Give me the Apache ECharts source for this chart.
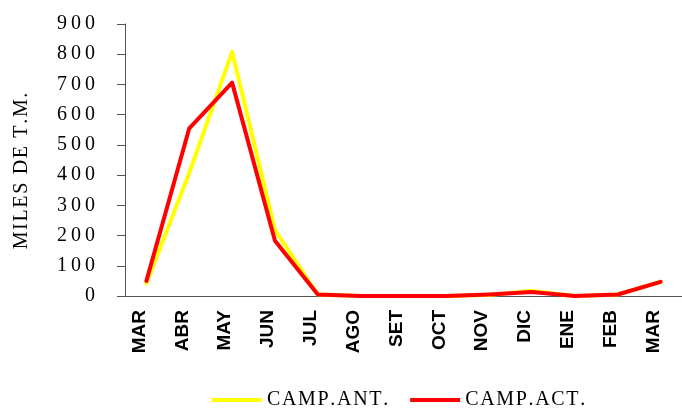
<!DOCTYPE html>
<html>
<head>
<meta charset="utf-8">
<script src="https://cdn.jsdelivr.net/npm/echarts@6/dist/echarts.min.js"></script>
<style>
  html, body { margin: 0; padding: 0; background: #fff; }
  #chart { width: 682px; height: 408px; }
</style>
</head>
<body>
<div id="chart"></div>
<script>
// categorias (meses de la campaña)
const months = ['MAR', 'ABR', 'MAY', 'JUN', 'JUL', 'AGO', 'SET', 'OCT', 'NOV', 'DIC', 'ENE', 'FEB', 'MAR'];
// miles de T.M.
const campAnt = [42, 407, 808, 218, 5, 0, 0, 0, 3, 17, 0, 5, 47];
const campAct = [50, 555, 706, 183, 5, 0, 0, 0, 5, 13, 0, 5, 47];
const seriesNames = ['CAMP.ANT.', 'CAMP.ACT.'];
const yTicks = { min: 0, max: 900, interval: 100 };

// espaciado entre letras (ECharts no tiene letterSpacing)
const spaced = (s, sp) => s.split('').join(sp);

const chart = echarts.init(document.getElementById('chart'));
const serif = '"Liberation Serif", "Times New Roman", serif';

chart.setOption({
  animation: false,
  grid: { left: 125, top: 24, bottom: 112, right: -7 },
  legend: {
    left: 212,
    top: 390,
    padding: 0,
    itemWidth: 50,
    itemHeight: 4,
    itemGap: 22,
    icon: 'rect',
    textStyle: { fontFamily: serif, fontSize: 20, color: '#000' },
    formatter: (n) => spaced(n, '\u200A'),
    data: seriesNames
  },
  xAxis: {
    type: 'category',
    data: months,
    boundaryGap: true,
    axisLine: { lineStyle: { color: '#555', width: 1 } },
    axisTick: { length: 7, lineStyle: { color: '#555' } },
    axisLabel: {
      rotate: 90,
      margin: 14,
      interval: 0,
      verticalAlign: 'bottom',
      lineHeight: 14,
      fontFamily: '"Liberation Sans", Arial, sans-serif',
      fontWeight: 'bold',
      fontSize: 19,
      color: '#000'
    }
  },
  yAxis: {
    type: 'value',
    min: yTicks.min,
    max: yTicks.max,
    interval: yTicks.interval,
    name: spaced('MILES DE T.M.', '\u200A'),
    nameLocation: 'middle',
    nameRotate: 90,
    nameGap: 93,
    nameTextStyle: { fontFamily: serif, fontSize: 20, color: '#000', padding: [0, 22, 0, 0] },
    axisLine: { show: true, lineStyle: { color: '#555', width: 1 } },
    axisTick: { show: true, length: 8, lineStyle: { color: '#555' } },
    splitLine: { show: false },
    axisLabel: {
      margin: 30,
      fontFamily: serif,
      fontSize: 20,
      color: '#000',
      formatter: (v) => spaced(String(v), '\u2009')
    }
  },
  series: [
    {
      name: seriesNames[0],
      type: 'line',
      data: campAnt,
      symbol: 'none',
      color: '#ffff00',
      lineStyle: { color: '#ffff00', width: 4, cap: 'round', join: 'round' }
    },
    {
      name: seriesNames[1],
      type: 'line',
      data: campAct,
      symbol: 'none',
      color: '#ff0000',
      lineStyle: { color: '#ff0000', width: 4, cap: 'round', join: 'round' }
    }
  ]
});
</script>
</body>
</html>
